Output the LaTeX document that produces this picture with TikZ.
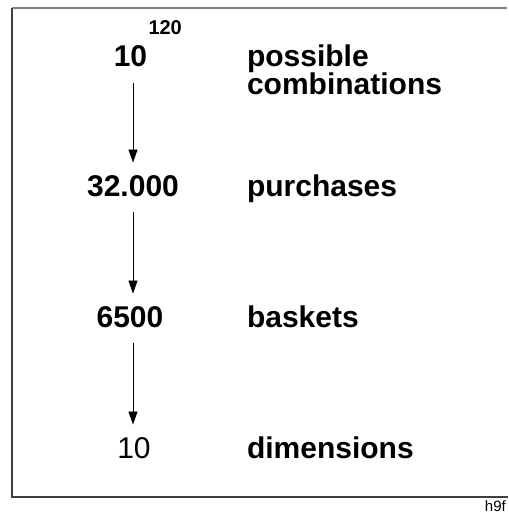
\documentclass[tikz,border=0pt]{standalone}
\usepackage{fontspec}
\setmainfont{Liberation Sans}
\usetikzlibrary{arrows.meta}
\begin{document}
\begin{tikzpicture}[x=1pt,y=-1pt,
  big/.style={inner sep=0pt,outer sep=0pt,font=\fontsize{30}{26}\selectfont\bfseries},
  bigreg/.style={inner sep=0pt,outer sep=0pt,font=\fontsize{30}{26}\selectfont},
  sup/.style={inner sep=0pt,outer sep=0pt,font=\fontsize{20}{20}\selectfont\bfseries},
  arr/.style={line width=0.8pt,-{Triangle[width=9pt,length=13pt]},shorten <=16pt,shorten >=12.5pt},
  framegray/.style={line width=1.6pt,draw=black!50},
  framedark/.style={line width=1.6pt,draw=black!75}]
\useasboundingbox (0,0) rectangle (508,513);
% frame
\draw[framegray] (12,8) -- (507,8);
\draw[framedark] (12,8) -- (12,497) -- (508,497);
\node[anchor=base east,inner sep=0pt,font=\fontsize{15}{15}\selectfont] (tag) at (506,511) {h9f};
% numbers
\coordinate (axis) at (133,0);
\node[big,anchor=base] (n1) at (130.5,67) {10};
\node[sup,anchor=base west] (e1) at (148.5,35) {120};
\node[big,anchor=base] (n2) at (133,196) {32.000};
\node[big,anchor=base] (n3) at (130,327) {6500};
\node[bigreg,anchor=base] (n4) at (134,458) {10};
% labels
\node[big,anchor=base west,align=left] (l1) at (247,95) {possible\\combinations};
\node[big,anchor=base west] (l2) at (247,196) {purchases};
\node[big,anchor=base west] (l3) at (247,327) {baskets};
\node[big,anchor=base west] (l4) at (247,458) {dimensions};
% arrows
\draw[arr] (n1.south -| axis) -- (n2.north -| axis);
\draw[arr] (n2.south -| axis) -- (n3.north -| axis);
\draw[arr] (n3.south -| axis) -- (n4.north -| axis);
\end{tikzpicture}
\end{document}
